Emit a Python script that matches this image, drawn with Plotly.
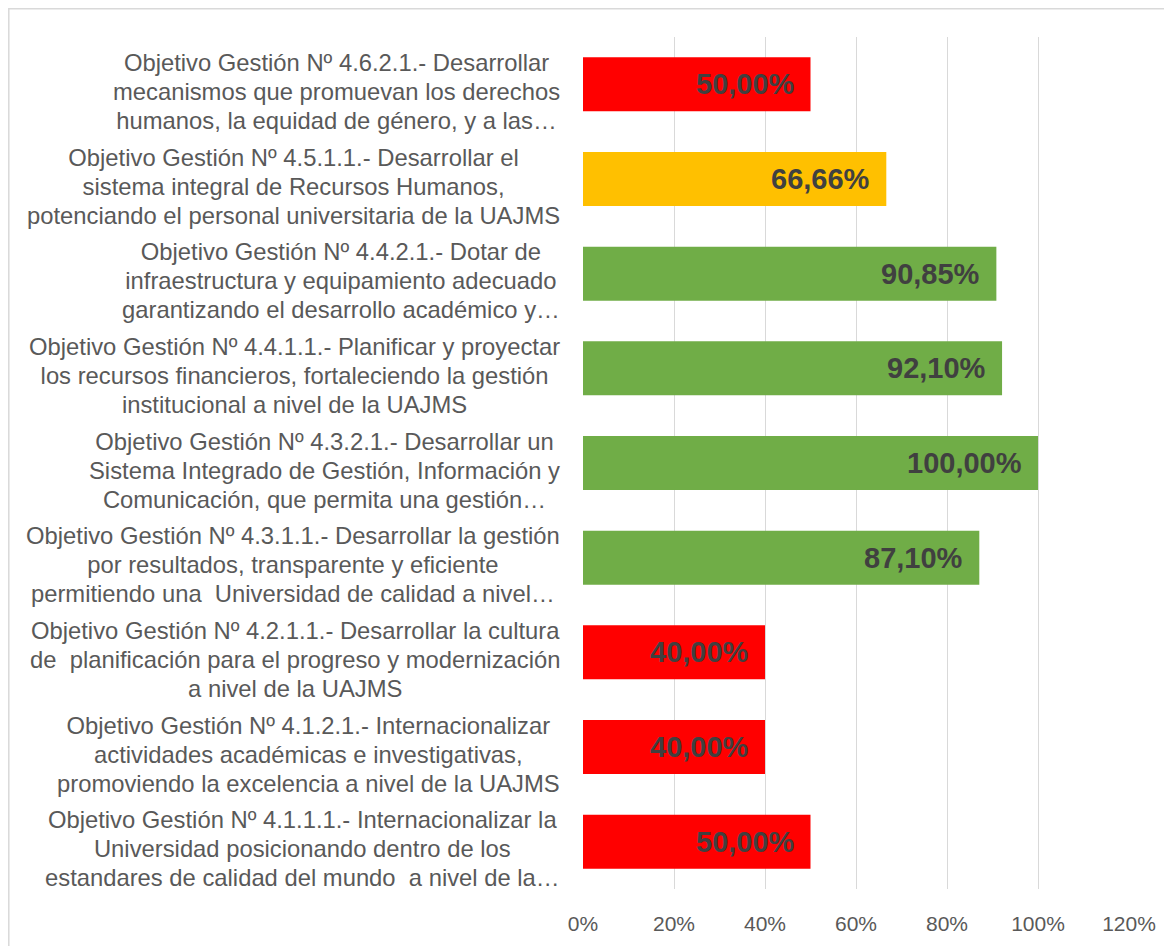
import plotly.graph_objects as go

categories = [
    "Objetivo Gestión Nº 4.6.2.1.- Desarrollar<br>mecanismos que promuevan los derechos<br>humanos, la equidad de género, y a las…",
    "Objetivo Gestión Nº 4.5.1.1.- Desarrollar el<br>sistema integral de Recursos Humanos,<br>potenciando el personal universitaria de la UAJMS",
    "Objetivo Gestión Nº 4.4.2.1.- Dotar de<br>infraestructura y equipamiento adecuado<br>garantizando el desarrollo académico y…",
    "Objetivo Gestión Nº 4.4.1.1.- Planificar y proyectar<br>los recursos financieros, fortaleciendo la gestión<br>institucional a nivel de la UAJMS",
    "Objetivo Gestión Nº 4.3.2.1.- Desarrollar un<br>Sistema Integrado de Gestión, Información y<br>Comunicación, que permita una gestión…",
    "Objetivo Gestión Nº 4.3.1.1.- Desarrollar la gestión<br>por resultados, transparente y eficiente<br>permitiendo una  Universidad de calidad a nivel…",
    "Objetivo Gestión Nº 4.2.1.1.- Desarrollar la cultura<br>de  planificación para el progreso y modernización<br>a nivel de la UAJMS",
    "Objetivo Gestión Nº 4.1.2.1.- Internacionalizar<br>actividades académicas e investigativas,<br>promoviendo la excelencia a nivel de la UAJMS",
    "Objetivo Gestión Nº 4.1.1.1.- Internacionalizar la<br>Universidad posicionando dentro de los<br>estandares de calidad del mundo  a nivel de la…",
]
values = [0.50, 0.6666, 0.9085, 0.921, 1.00, 0.871, 0.40, 0.40, 0.50]
value_labels = ["50,00%", "66,66%", "90,85%", "92,10%", "100,00%", "87,10%", "40,00%", "40,00%", "50,00%"]
bar_colors = ["#FF0000", "#FFC000", "#70AD47", "#70AD47", "#70AD47", "#70AD47", "#FF0000", "#FF0000", "#FF0000"]
x_ticks = [0, 0.2, 0.4, 0.6, 0.8, 1.0, 1.2]
x_tick_labels = ["0%", "20%", "40%", "60%", "80%", "100%", "120%"]

W, H = 1172, 946
ml, mr, mt, mb = 575, 51, 29, 65
pw, ph = W - ml - mr, H - mt - mb

fig = go.Figure()
fig.add_trace(go.Bar(
    y=categories, x=values, orientation="h",
    marker=dict(color=bar_colors, line=dict(width=0)),
    width=0.57, hoverinfo="skip",
))

annotations = []
for cat, v, lab in zip(categories, values, value_labels):
    annotations.append(dict(
        x=v, y=cat, xref="x", yref="y", text=lab, showarrow=False,
        xanchor="right", yanchor="middle", xshift=-14,
        font=dict(family="Liberation Sans, Arial", size=29, color="#404040", weight="bold"),
    ))
    styled = "<br>".join(
        "<span style='font-size:23.8px'>" + line + "</span>" for line in cat.split("<br>")
    )
    annotations.append(dict(
        x=0, y=cat, xref="x", yref="y", text=styled, showarrow=False,
        xanchor="right", yanchor="middle", xshift=-21, yshift=-7, align="center",
        font=dict(family="Liberation Sans, Arial", size=22.3, color="#595959"),
    ))

# outer chart frame (top and left edges visible)
fx0 = (0.8 - ml) / pw
fy1 = (H - mb - 0.8) / ph
shapes = [dict(type="rect", xref="paper", yref="paper", x0=fx0, x1=1.3, y0=-0.3, y1=fy1,
               line=dict(color="#D9D9D9", width=1.5), layer="below")]

fig.update_layout(
    width=W, height=H,
    margin=dict(l=ml, r=mr, t=mt, b=mb),
    plot_bgcolor="white", paper_bgcolor="white",
    showlegend=False,
    annotations=annotations,
    shapes=shapes,
    xaxis=dict(
        range=[0, 1.2], tickvals=x_ticks, ticktext=x_tick_labels,
        showgrid=True, gridcolor="#D9D9D9", gridwidth=1,
        zeroline=False, showline=False, ticks="",
        tickfont=dict(family="Liberation Sans, Arial", size=21, color="#595959"),
        ticklabelstandoff=20,
    ),
    yaxis=dict(
        categoryorder="array", categoryarray=categories[::-1],
        showticklabels=False, showgrid=False, zeroline=False, ticks="",
        range=[-0.5, len(categories) - 0.5],
    ),
)

fig.write_html("out.html")
